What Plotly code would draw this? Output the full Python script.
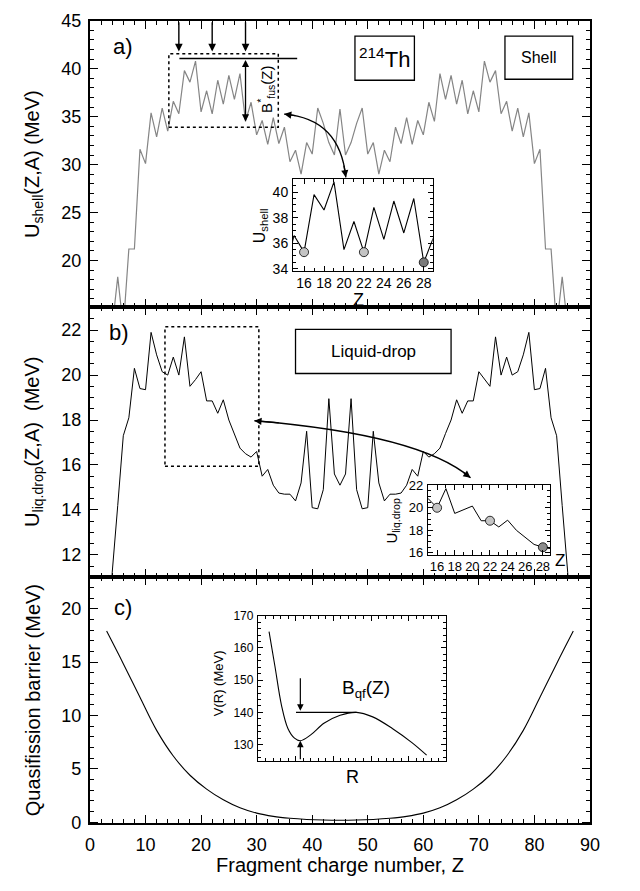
import plotly.graph_objects as go

W, H = 640, 891

# ---- data -------------------------------------------------------------
Z = list(range(3, 88))

U_SHELL = [10.0, 13.0, 18.3, 13.0, 21.2, 21.2, 31.6, 30.1, 35.4, 32.9,
           35.9, 33.5, 36.6, 35.3, 39.8, 38.6, 40.8, 35.5, 37.7, 35.3,
           38.8, 36.3, 39.3, 36.8, 39.5, 34.5, 36.5, 33.1, 34.6, 32.1,
           34.9, 32.2, 33.9, 30.3, 31.5, 29.0, 32.3, 31.1, 35.9, 34.3,
           32.3, 31.0, 35.8, 31.0, 32.3, 34.3, 35.9, 31.1, 32.3, 29.0,
           31.5, 30.3, 33.9, 32.2, 34.9, 32.1, 34.6, 33.1, 36.5, 34.5,
           39.5, 36.8, 39.3, 36.3, 38.8, 35.3, 37.7, 35.5, 40.8, 38.6,
           39.8, 35.3, 36.6, 33.5, 35.9, 32.9, 35.4, 30.1, 31.6, 21.2,
           21.2, 13.0, 18.3, 13.0, 10.0]

U_LIQ = [5.0, 11.2, 14.2, 17.3, 18.1, 20.3, 19.4, 19.35, 21.9, 20.9,
         20.15, 20.0, 20.8, 20.0, 21.7, 19.5, 19.8, 20.15, 18.85, 18.85,
         18.3, 18.9, 18.0, 17.4, 16.75, 16.5, 16.35, 16.6, 15.5, 15.8,
         15.1, 14.75, 14.7, 14.7, 14.4, 15.2, 17.5, 14.1, 14.05, 14.9,
         18.95, 15.6, 15.1, 15.6, 18.95, 14.9, 14.05, 14.1, 17.5, 15.2,
         14.4, 14.7, 14.7, 14.75, 15.1, 15.8, 15.5, 16.6, 16.35, 16.5,
         16.75, 17.4, 18.0, 18.9, 18.3, 18.85, 18.85, 20.15, 19.8, 19.5,
         21.7, 20.0, 20.8, 20.0, 20.15, 20.9, 21.9, 19.35, 19.4, 20.3,
         18.1, 17.3, 14.2, 11.2, 5.0]

ZQ = [3, 6, 9, 12, 15, 18, 21, 24, 27, 30, 33, 36, 39, 42, 45,
      48, 51, 54, 57, 60, 63, 66, 69, 72, 75, 78, 81, 84, 87]
BQF = [17.9, 14.85, 11.7, 8.6, 6.2, 4.4, 3.1, 2.1, 1.35, 0.85, 0.55, 0.37,
       0.26, 0.2, 0.18, 0.2, 0.26, 0.37, 0.55, 0.85, 1.35, 2.1, 3.1, 4.4,
       6.2, 8.6, 11.7, 14.85, 17.9]

R_PTS = [0.59, 0.90, 1.25, 1.59, 1.94, 2.25, 2.80, 3.50, 4.36, 5.23,
         6.09, 7.13, 8.17, 8.95]
V_PTS = [165.1, 154.4, 142.2, 135.0, 132.0, 131.2, 133.0, 136.6, 139.1,
         140.0, 138.6, 135.0, 130.6, 126.7]

MARKED_Z = [16, 22, 28]
MARK_FILL = ["#c4c4c4", "#c4c4c4", "#7a7a7a"]
MARK_FILL_B = ["#c4c4c4", "#c4c4c4", "#8c8c8c"]

R_MIN, V_MIN, V_TOP = 2.25, 131.2, 140.0
R_TOP = 5.23

FONT = "Liberation Sans"


def px(x):
    return x / W


def py(y):
    return 1 - y / H


def value_at(zs, vals, z):
    return vals[zs.index(z)]


fig = go.Figure()

# ---- main curves -----------------------------------------------------
fig.add_trace(go.Scatter(x=Z, y=U_SHELL, mode="lines", xaxis="x", yaxis="y",
                         line=dict(color="#858585", width=1.2)))
fig.add_trace(go.Scatter(x=Z, y=U_LIQ, mode="lines", xaxis="x2", yaxis="y2",
                         line=dict(color="black", width=1)))
fig.add_trace(go.Scatter(x=ZQ, y=BQF, mode="lines", xaxis="x3", yaxis="y3",
                         line=dict(color="black", width=1.1, shape="spline",
                                   smoothing=1.0)))

# ---- insets ------------------------------------------------------------
fig.add_trace(go.Scatter(x=Z, y=U_SHELL, mode="lines", xaxis="x4", yaxis="y4",
                         line=dict(color="black", width=1.1)))
fig.add_trace(go.Scatter(
    x=MARKED_Z, y=[value_at(Z, U_SHELL, z) for z in MARKED_Z], mode="markers",
    xaxis="x4", yaxis="y4",
    marker=dict(size=9, color=MARK_FILL, line=dict(color="black", width=0.8))))

fig.add_trace(go.Scatter(x=Z, y=U_LIQ, mode="lines", xaxis="x5", yaxis="y5",
                         line=dict(color="black", width=1)))
fig.add_trace(go.Scatter(
    x=MARKED_Z, y=[value_at(Z, U_LIQ, z) for z in MARKED_Z], mode="markers",
    xaxis="x5", yaxis="y5",
    marker=dict(size=9, color=MARK_FILL_B, line=dict(color="black", width=0.8))))

fig.add_trace(go.Scatter(x=R_PTS, y=V_PTS, mode="lines", xaxis="x6", yaxis="y6",
                         line=dict(color="black", width=1.1, shape="spline",
                                   smoothing=1.0)))

# ---- axes ------------------------------------------------------------
XDOM = [px(87), px(599)]
frame = dict(showline=True, linecolor="black", linewidth=2, mirror="allticks",
             ticks="inside", ticklen=8, tickwidth=1.3, tickcolor="black",
             showgrid=False, zeroline=False,
             tickfont=dict(family=FONT, size=18, color="black"))


def xmain(anchor, labels):
    return dict(frame, domain=XDOM, anchor=anchor, range=[0, 90], dtick=10,
                tick0=0, showticklabels=labels, ticklabelstandoff=4,
                minor=dict(dtick=2, ticklen=4, ticks="inside",
                           tickcolor="black", tickwidth=1))


def ymain(anchor, dom, rng, dt, mdt):
    return dict(frame, domain=dom, anchor=anchor, range=rng, dtick=dt,
                tick0=0, ticklabelstandoff=3,
                minor=dict(dtick=mdt, ticklen=4, ticks="inside",
                           tickcolor="black", tickwidth=1))


inset_frame = dict(showline=True, linecolor="black", linewidth=1.2,
                   mirror="allticks", ticks="inside", ticklen=5, tickwidth=1,
                   tickcolor="black", showgrid=False, zeroline=False)


def inset_axis(anchor, dom, rng, dt, mdt, size, labels=True, standoff=1):
    return dict(inset_frame, domain=dom, anchor=anchor, range=rng, dtick=dt,
                tick0=0, showticklabels=labels, ticklabelstandoff=standoff,
                tickfont=dict(family=FONT, size=size, color="black"),
                minor=dict(dtick=mdt, ticklen=3, ticks="inside",
                           tickcolor="black", tickwidth=0.8))


fig.update_layout(
    width=W, height=H, margin=dict(l=0, r=0, t=0, b=0),
    paper_bgcolor="white", plot_bgcolor="white", showlegend=False,
    font=dict(family=FONT, color="black"),
    xaxis=xmain("y", False),
    yaxis=ymain("x", [py(303), py(11)], [15.2, 45.0001], 5, 1),
    xaxis2=xmain("y2", False),
    yaxis2=ymain("x2", [py(579), py(303)], [11.03, 23.05], 2, 0.5),
    xaxis3=xmain("y3", True),
    yaxis3=ymain("x3", [py(831), py(579)], [-0.1, 23.0], 5, 1),
    xaxis4=inset_axis("y4", [px(295), px(438)], [14.9, 28.9], 2, 1, 14,
                      standoff=-1),
    yaxis4=inset_axis("x4", [py(267), py(173)], [33.8, 41.0], 2, 0.5, 14),
    xaxis5=inset_axis("y5", [px(433), px(558)], [14.95, 28.8], 2, 1, 13,
                      standoff=-1),
    yaxis5=inset_axis("x5", [py(557), py(485)], [15.8, 22.05], 2, 0.5, 13),
    xaxis6=inset_axis("y6", [px(259), px(452)], [0, 10], 2, 0.4, 11,
                      labels=False),
    yaxis6=inset_axis("x6", [py(767), py(619)], [125, 170], 10, 2, 12),
)

# ---- shapes ----------------------------------------------------------
shapes = []


def rect(xr, yr, x0, x1, y0, y1, dash="solid", w=1.3):
    shapes.append(dict(type="rect", xref=xr, yref=yr, x0=x0, x1=x1, y0=y0,
                       y1=y1, line=dict(color="black", width=w, dash=dash)))


def seg(xr, yr, x0, y0, x1, y1, w=1.5):
    shapes.append(dict(type="line", xref=xr, yref=yr, x0=x0, x1=x1, y0=y0,
                       y1=y1, line=dict(color="black", width=w)))


rect("x", "y", 14.2, 33.9, 33.9, 41.57, dash="dot", w=1.5)
rect("x", "y", 47.7, 58.4, 38.8, 43.4)
rect("x", "y", 74.7, 86.9, 38.9, 43.4)
seg("x", "y", 16.1, 41.07, 37.3, 41.07)

rect("x2", "y2", 13.5, 30.4, 15.94, 22.15, dash="dot", w=1.5)
rect("x2", "y2", 37.0, 65.0, 20.07, 22.03)

seg("x6", "y6", 2.02, V_TOP, R_TOP, V_TOP, w=1.3)

CURVE_A = ((34.96, 35.27), (45.0, 34.8), (46.06, 28.67))
CURVE_B = ((29.6, 17.97), (59.5, 17.35), (68.5, 15.43))


def bez(curve, t):
    p0, c, p1 = curve
    return tuple((1 - t) ** 2 * a + 2 * t * (1 - t) * b + t ** 2 * d
                 for a, b, d in zip(p0, c, p1))


def curve_path(curve):
    (x0, y0), (cx, cy), (x1, y1) = curve
    return f"M {x0},{y0} Q {cx},{cy} {x1},{y1}"


shapes.append(dict(type="path", xref="x", yref="y", path=curve_path(CURVE_A),
                   line=dict(color="black", width=1.4)))
shapes.append(dict(type="path", xref="x2", yref="y2", path=curve_path(CURVE_B),
                   line=dict(color="black", width=1.4)))

fig.update_layout(shapes=shapes)

# ---- annotations -----------------------------------------------------
ann = []


def text(xr, yr, x, y, s, size, angle=0, xanchor="center", yanchor="middle"):
    ann.append(dict(xref=xr, yref=yr, x=x, y=y, text=s, showarrow=False,
                    textangle=angle, xanchor=xanchor, yanchor=yanchor,
                    font=dict(family=FONT, size=size, color="black")))


def arrow(xr, yr, x, y, ax, ay, side="end", w=1.4, size=1.1):
    ann.append(dict(xref=xr, yref=yr, axref=xr, ayref=yr, x=x, y=y, ax=ax,
                    ay=ay, text="", showarrow=True, arrowhead=2,
                    arrowside=side, arrowsize=size, arrowwidth=w,
                    arrowcolor="black", standoff=0, startstandoff=0))


def paper_text(xp, yp, s, size, angle=0):
    ann.append(dict(xref="paper", yref="paper", x=px(xp), y=py(yp), text=s,
                    showarrow=False, textangle=angle, xanchor="center",
                    yanchor="middle",
                    font=dict(family=FONT, size=size, color="black")))


# panel a
text("x", "y", 5.9, 42.3, "a)", 22)
text("x", "y", 53.05, 41.1, "<sup>214</sup>Th", 22)
text("x", "y", 80.8, 41.15, "Shell", 16)
text("x", "y", 31.7, 37.8, "B<sup>*</sup><sub>fus</sub>(Z)", 15, angle=-90)
for zm in MARKED_Z:
    arrow("x", "y", zm, 41.8, zm, 45.0)
arrow("x", "y", 28.0, 34.5, 28.0, 41.07, side="end+start", w=1.3, size=1.1)
for end_t, tip in ((0.12, 0.0), (0.88, 1.0)):
    tx, ty = bez(CURVE_A, tip)
    bx, by = bez(CURVE_A, end_t)
    arrow("x", "y", tx, ty, bx, by, w=1.3)

# panel b
text("x2", "y2", 5.2, 21.9, "b)", 22)
text("x2", "y2", 51.0, 21.05, "Liquid-drop", 17)
for end_t, tip in ((0.08, 0.0), (0.92, 1.0)):
    tx, ty = bez(CURVE_B, tip)
    bx, by = bez(CURVE_B, end_t)
    arrow("x2", "y2", tx, ty, bx, by, w=1.3)

# panel c
text("x3", "y3", 5.9, 20.1, "c)", 22)
text("x6", "y6", 5.75, 147.3, "B<sub>qf</sub>(Z)", 19)
arrow("x6", "y6", R_MIN, V_TOP + 0.5, R_MIN, 151.1, w=1.2)
arrow("x6", "y6", R_MIN, V_MIN, R_MIN, 125.0, w=1.2)

# axis titles
paper_text(29, 157, "U<sub>shell</sub>(Z,A) (MeV)", 20, angle=-90)
paper_text(29, 441, "U<sub>liq.drop</sub>(Z,A)\u00a0 (MeV)", 20, angle=-90)
paper_text(29, 705, "Quasifission barrier (MeV)", 20, angle=-90)
paper_text(343, 874, "Fragment charge number, Z", 20)

paper_text(261, 220, "U<sub>shell</sub>", 16, angle=-90)
paper_text(362, 296, "Z", 18)
paper_text(397, 522, "U<sub>liq.drop</sub>", 15, angle=-90)
paper_text(568, 563, "Z", 17)
paper_text(218, 688, "V(R) (MeV)", 13, angle=-90)
paper_text(356, 784, "R", 18)

fig.update_layout(annotations=ann)

fig.write_html("out.html")
